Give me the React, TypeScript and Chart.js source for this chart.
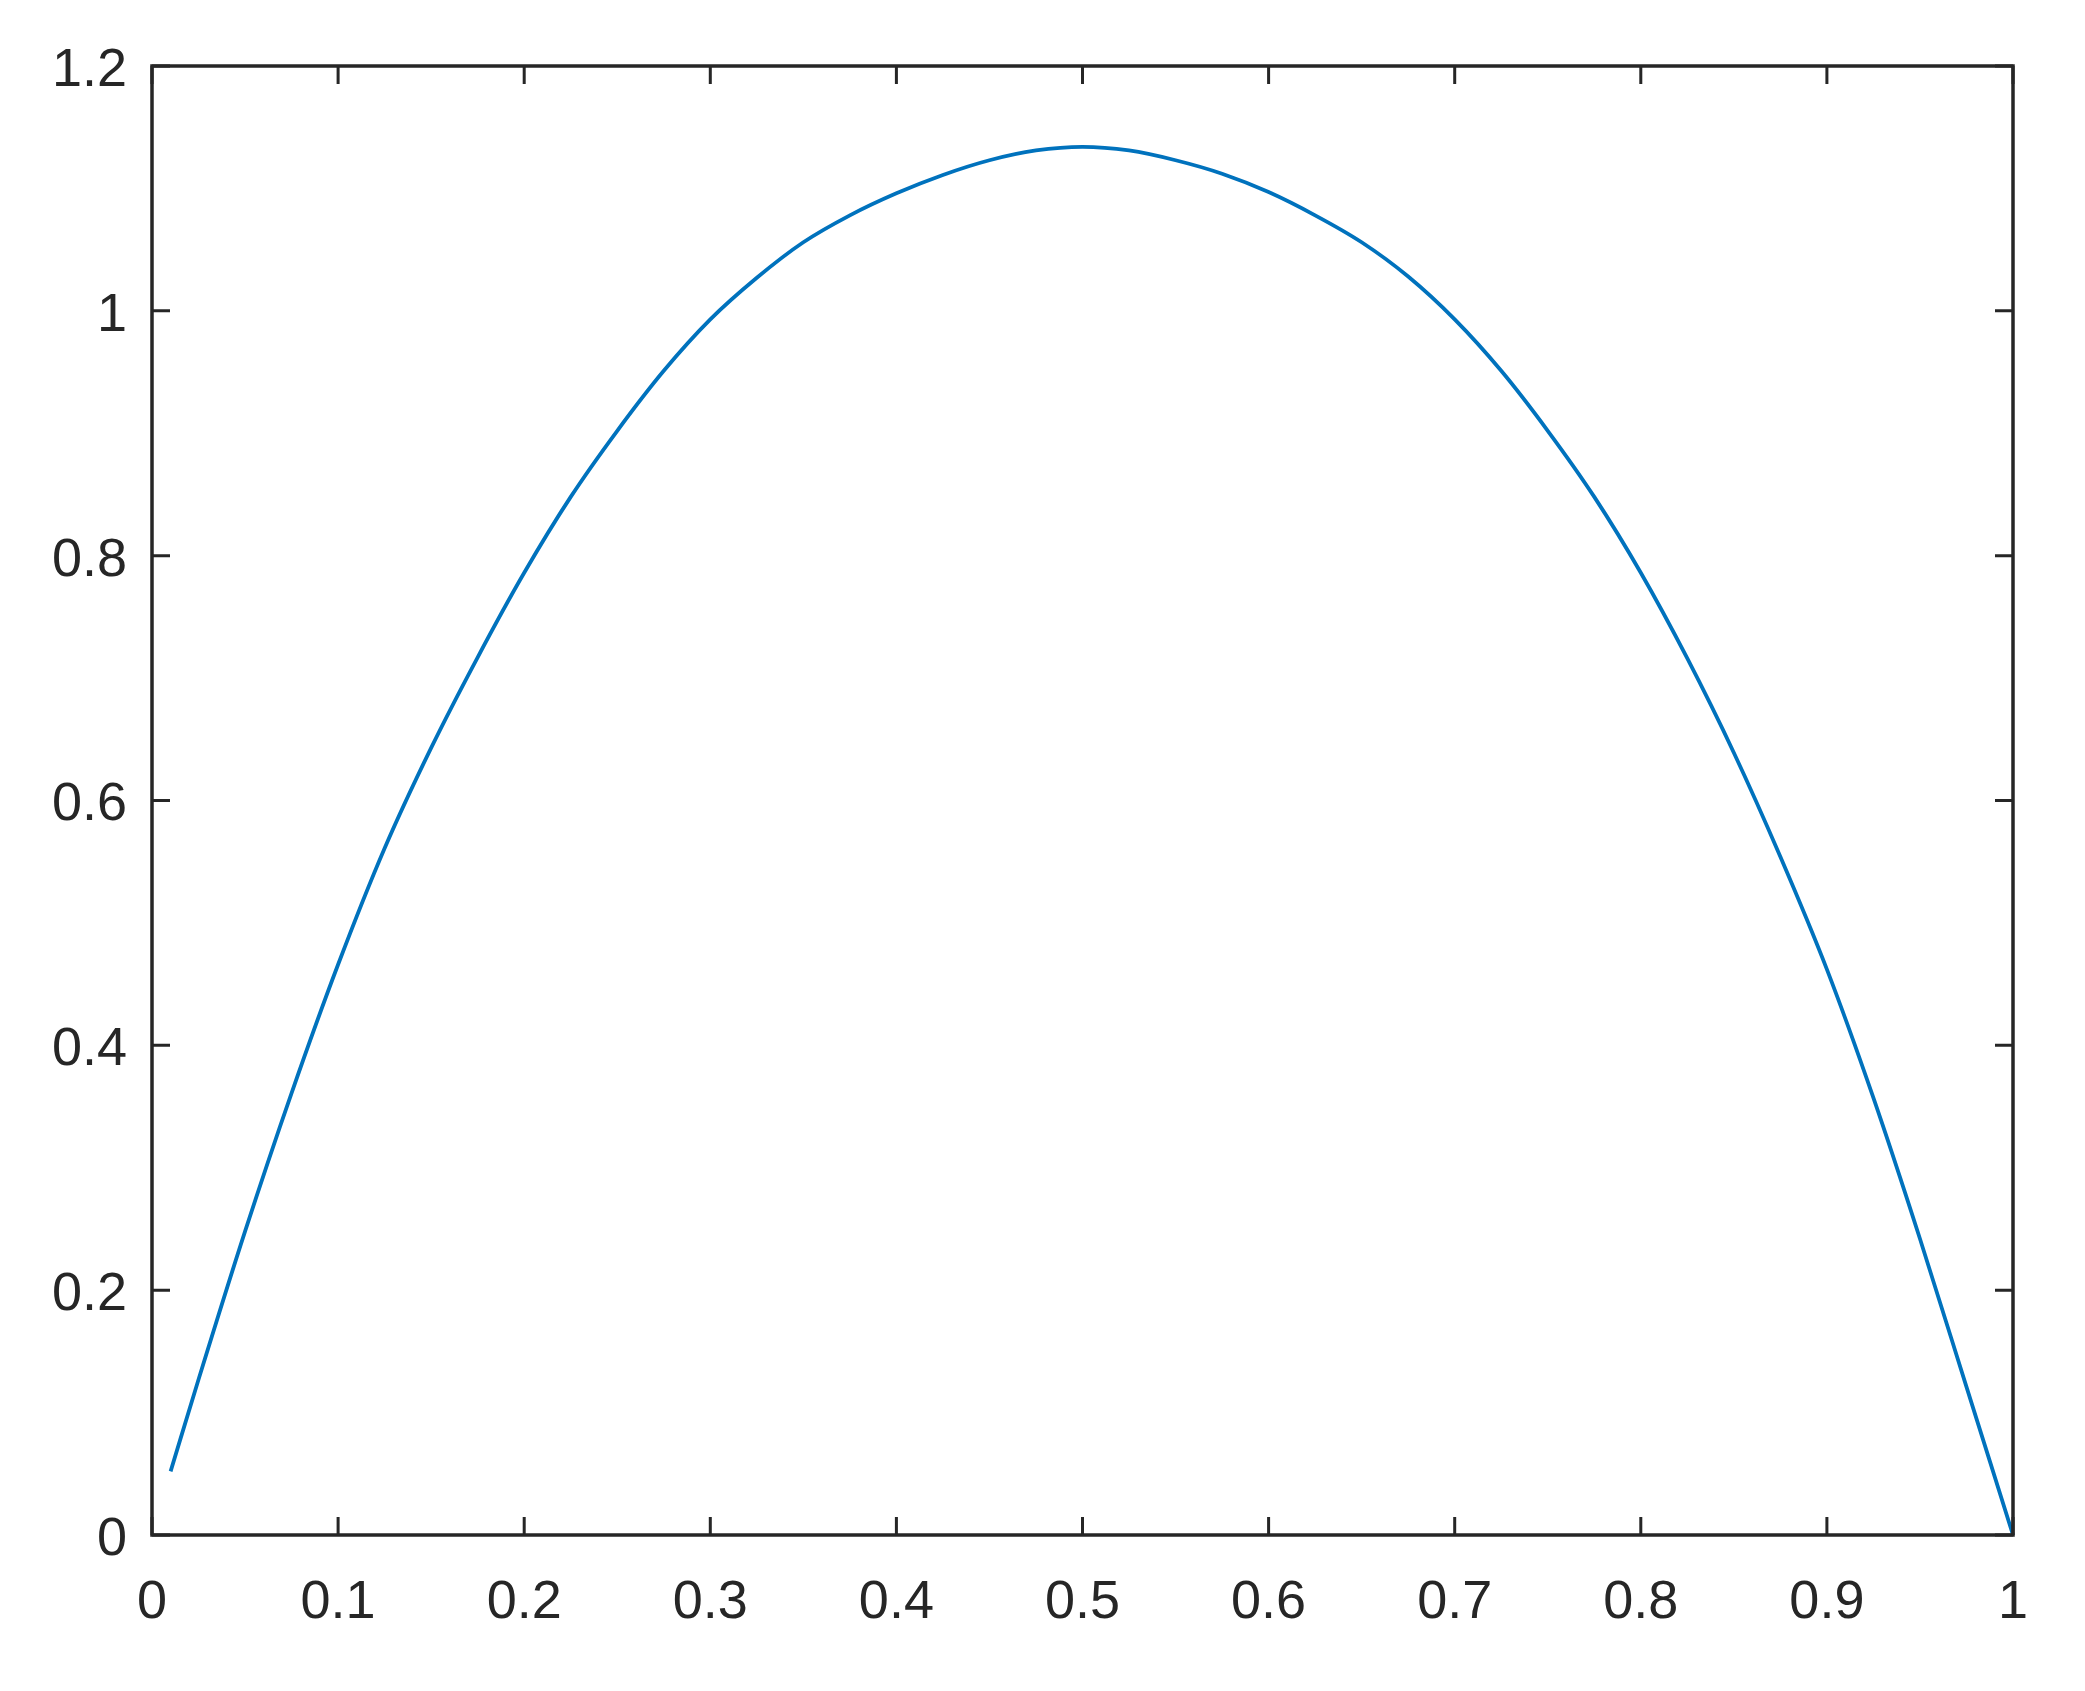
import React, { useEffect, useRef } from 'react';
import { Chart, registerables } from 'chart.js';

Chart.register(...registerables);

const xValues = [
  0.01, 0.025, 0.05, 0.075, 0.1, 0.125, 0.15, 0.175, 0.2, 0.225, 0.25, 0.275,
  0.3, 0.325, 0.35, 0.375, 0.4, 0.425, 0.45, 0.475, 0.5, 0.525, 0.55, 0.575,
  0.6, 0.625, 0.65, 0.675, 0.7, 0.725, 0.75, 0.775, 0.8, 0.825, 0.85, 0.875,
  0.9, 0.925, 0.95, 0.975, 1.0,
];
// y values of the curve at those x positions
const yValues = [
  0.052, 0.127, 0.248, 0.361, 0.466, 0.561, 0.643, 0.717, 0.786, 0.848, 0.902, 0.951,
  0.993, 1.027, 1.056, 1.078, 1.096, 1.111, 1.123, 1.131, 1.134, 1.131, 1.123, 1.112,
  1.097, 1.078, 1.056, 1.028, 0.993, 0.951, 0.902, 0.848, 0.786, 0.716, 0.639, 0.554,
  0.462, 0.357, 0.242, 0.121, 0.0,
];

const xTickValues = [0, 0.1, 0.2, 0.3, 0.4, 0.5, 0.6, 0.7, 0.8, 0.9, 1];
const xTickLabels = ['0', '0.1', '0.2', '0.3', '0.4', '0.5', '0.6', '0.7', '0.8', '0.9', '1'];
const yTickValues = [0, 0.2, 0.4, 0.6, 0.8, 1, 1.2];
const yTickLabels = ['0', '0.2', '0.4', '0.6', '0.8', '1', '1.2'];

const AXIS_COLOR = '#262626';
const LINE_COLOR = '#0072BD';
const FONT = { family: '"Liberation Sans", Arial, Helvetica, sans-serif', size: 54 };
const TICK_LEN = 18;

const framePlugin = {
  id: 'matlabFrame',
  afterDatasetsDraw(chart: any) {
    const { ctx, chartArea: a, scales } = chart;
    ctx.save();
    ctx.strokeStyle = AXIS_COLOR;
    ctx.lineWidth = 3;
    ctx.beginPath();
    xTickValues.forEach((v) => {
      const px = scales.x.getPixelForValue(v);
      ctx.moveTo(px, a.bottom);
      ctx.lineTo(px, a.bottom - TICK_LEN);
      ctx.moveTo(px, a.top);
      ctx.lineTo(px, a.top + TICK_LEN);
    });
    yTickValues.forEach((v) => {
      const py = scales.y.getPixelForValue(v);
      ctx.moveTo(a.left, py);
      ctx.lineTo(a.left + TICK_LEN, py);
      ctx.moveTo(a.right, py);
      ctx.lineTo(a.right - TICK_LEN, py);
    });
    ctx.stroke();
    ctx.lineWidth = 3.5;
    ctx.strokeRect(a.left, a.top, a.right - a.left, a.bottom - a.top);
    ctx.restore();
  },
};

export default function App() {
  const ref = useRef<HTMLCanvasElement>(null);

  useEffect(() => {
    const points = xValues.map((x, i) => ({ x, y: yValues[i] }));
    const chart = new Chart(ref.current as HTMLCanvasElement, {
      type: 'line',
      data: {
        datasets: [
          {
            data: points,
            borderColor: LINE_COLOR,
            borderWidth: 3.8,
            pointRadius: 0,
            fill: false,
            cubicInterpolationMode: 'monotone',
            clip: false as any,
          },
        ],
      },
      options: {
        animation: false,
        responsive: false,
        devicePixelRatio: 1,
        layout: { padding: { left: 0, top: 66, right: 72, bottom: 0 } },
        plugins: {
          legend: { display: false },
          tooltip: { enabled: false },
        },
        scales: {
          x: {
            type: 'linear',
            min: 0,
            max: 1,
            grid: { display: false, drawTicks: false },
            border: { display: false },
            afterBuildTicks: (scale: any) => {
              scale.ticks = xTickValues.map((value) => ({ value }));
            },
            afterFit: (scale: any) => {
              scale.height = 156;
            },
            ticks: {
              color: AXIS_COLOR,
              font: FONT,
              padding: 36,
              maxRotation: 0,
              autoSkip: false,
              callback: (_v: any, i: number) => xTickLabels[i],
            },
          },
          y: {
            type: 'linear',
            min: 0,
            max: 1.2,
            grid: { display: false, drawTicks: false },
            border: { display: false },
            afterBuildTicks: (scale: any) => {
              scale.ticks = yTickValues.map((value) => ({ value }));
            },
            afterFit: (scale: any) => {
              scale.width = 152;
            },
            ticks: {
              color: AXIS_COLOR,
              font: FONT,
              padding: 25,
              labelOffset: 5,
              autoSkip: false,
              callback: (_v: any, i: number) => yTickLabels[i],
            },
          },
        },
      },
      plugins: [framePlugin],
    });
    return () => chart.destroy();
  }, []);

  return (
    <div style={{ position: 'absolute', left: 0, top: 0, width: 2085, height: 1691, background: '#ffffff' }}>
      <canvas ref={ref} width={2085} height={1691} style={{ display: 'block', width: 2085, height: 1691 }} />
    </div>
  );
}
